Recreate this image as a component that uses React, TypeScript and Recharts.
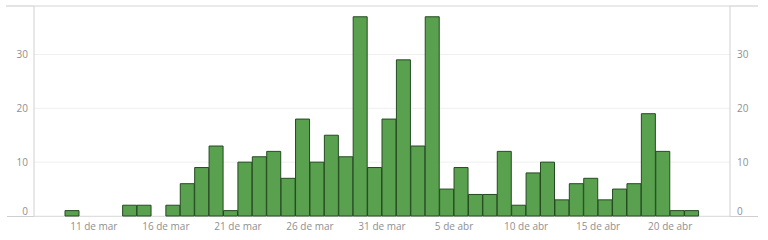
import React from "react";
import { ComposedChart, Bar, Line, XAxis, YAxis, CartesianGrid } from "recharts";

const DATES: string[] = [
  "9 de mar", "10 de mar", "11 de mar", "12 de mar", "13 de mar", "14 de mar", "15 de mar",
  "16 de mar", "17 de mar", "18 de mar", "19 de mar", "20 de mar", "21 de mar", "22 de mar",
  "23 de mar", "24 de mar", "25 de mar", "26 de mar", "27 de mar", "28 de mar", "29 de mar",
  "30 de mar", "31 de mar", "1 de abr", "2 de abr", "3 de abr", "4 de abr", "5 de abr",
  "6 de abr", "7 de abr", "8 de abr", "9 de abr", "10 de abr", "11 de abr", "12 de abr",
  "13 de abr", "14 de abr", "15 de abr", "16 de abr", "17 de abr", "18 de abr", "19 de abr",
  "20 de abr", "21 de abr",
];

const VALUES: number[] = [
  1, 0, 0, 0, 2, 2, 0, 2, 6, 9, 13, 1, 10, 11, 12, 7, 18, 10, 15, 11, 37, 9,
  18, 29, 13, 37, 5, 9, 4, 4, 12, 2, 8, 10, 3, 6, 7, 3, 5, 6, 19, 12, 1, 1,
];

const X_TICK_LABELS: string[] = [
  "11 de mar", "16 de mar", "21 de mar", "26 de mar", "31 de mar",
  "5 de abr", "10 de abr", "15 de abr", "20 de abr",
];

const Y_TICKS: number[] = [0, 10, 20, 30];
const Y_MAX = 39;

const data = DATES.map((d, i) => ({ date: d, value: VALUES[i] }));

const FONT = "'Open Sans', sans-serif";
const TICK_COLOR = "#8f8f8f";

const XTick = (props: any) => {
  const { x, y, payload } = props;
  if (!X_TICK_LABELS.includes(payload.value)) return null;
  const off = typeof payload.offset === "number" ? payload.offset : 7.2;
  return (
    <text
      x={x - off}
      y={y}
      dy="0.71em"
      textAnchor="middle"
      fill={TICK_COLOR}
      fontSize={10}
      fontFamily={FONT}
    >
      {payload.value}
    </text>
  );
};

const YTick = (props: any) => {
  const { x, y, payload, textAnchor } = props;
  const shift = payload.value === 0 ? -5 : 0;
  return (
    <text
      x={x}
      y={y + shift}
      dy="0.355em"
      textAnchor={textAnchor}
      fill={TICK_COLOR}
      fontSize={10}
      fontFamily={FONT}
    >
      {payload.value}
    </text>
  );
};

export default function App() {
  return (
    <div
      style={{
        position: "absolute",
        left: 0,
        top: 0,
        width: 768,
        height: 240,
        background: "#fff",
      }}
    >
      <div
        style={{
          position: "absolute",
          left: 6,
          top: 5,
          width: 752,
          height: 0,
          borderTop: "2px solid #e4e4e4",
        }}
      />
      <div
        style={{
          position: "absolute",
          left: 7,
          top: 216,
          width: 751,
          height: 0,
          borderTop: "1px solid #cfcfcf",
        }}
      />
      <div style={{ position: "absolute", left: 0, top: 0 }}>
        <ComposedChart
          width={768}
          height={240}
          data={data}
          margin={{ top: 6, right: 0, bottom: 0, left: 0 }}
          barCategoryGap={0}
        >
          <CartesianGrid vertical={false} stroke="#efefef" yAxisId="left" />
          <XAxis
            dataKey="date"
            height={24}
            interval={0}
            axisLine={false}
            tickLine={false}
            tickSize={0}
            tickMargin={7}
            padding={{ left: 31, right: 31 }}
            tick={<XTick />}
          />
          <YAxis
            yAxisId="left"
            orientation="left"
            width={34}
            domain={[0, Y_MAX]}
            ticks={Y_TICKS}
            axisLine={{ stroke: "#d0d0d0" }}
            tickLine={false}
            tickSize={0}
            tickMargin={6}
            tick={<YTick />}
          />
          <YAxis
            yAxisId="right"
            orientation="right"
            width={38}
            domain={[0, Y_MAX]}
            ticks={Y_TICKS}
            axisLine={{ stroke: "#d0d0d0" }}
            tickLine={false}
            tickSize={0}
            tickMargin={7}
            tick={<YTick />}
          />
          <Bar
            yAxisId="left"
            dataKey="value"
            fill="#59a14f"
            stroke="#244a20"
            strokeWidth={1}
            isAnimationActive={false}
          />
          <Line
            yAxisId="right"
            dataKey="value"
            stroke="none"
            strokeWidth={0}
            dot={false}
            activeDot={false}
            legendType="none"
            isAnimationActive={false}
          />
        </ComposedChart>
      </div>
    </div>
  );
}
